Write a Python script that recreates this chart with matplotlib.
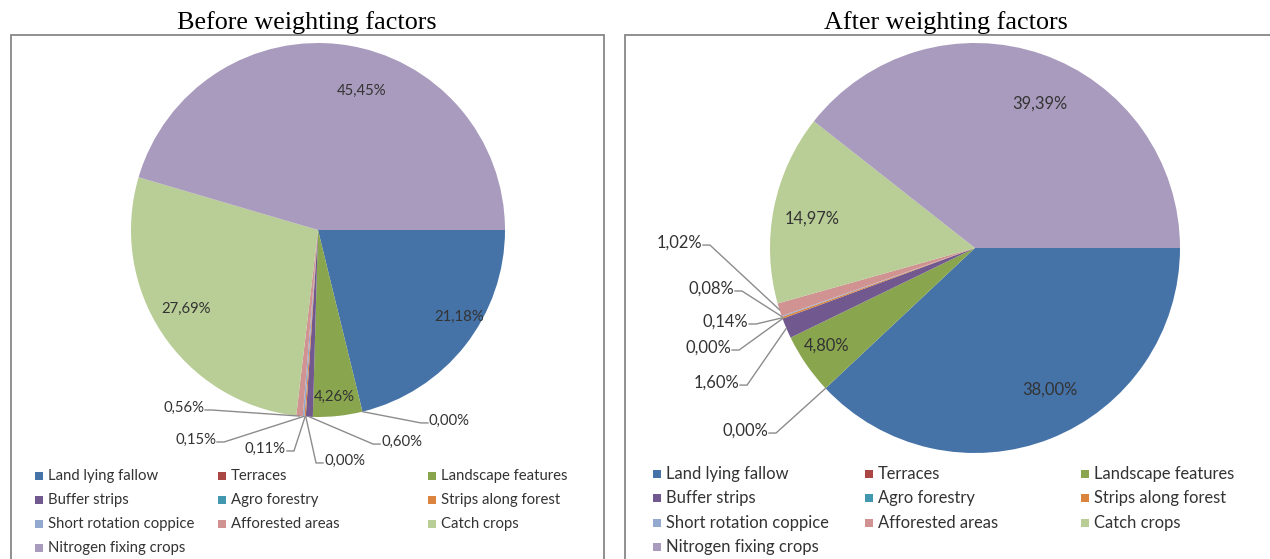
import numpy as np
import matplotlib
matplotlib.use("Agg")
import matplotlib.pyplot as plt
from matplotlib.patches import Rectangle

categories = ["Land lying fallow", "Terraces", "Landscape features",
              "Buffer strips", "Agro forestry", "Strips along forest",
              "Short rotation coppice", "Afforested areas", "Catch crops",
              "Nitrogen fixing crops"]
before_values = [21.18, 0.00, 4.26, 0.60, 0.00, 0.11, 0.15, 0.56, 27.69, 45.45]
after_values = [38.00, 0.00, 4.80, 1.60, 0.00, 0.14, 0.08, 1.02, 14.97, 39.39]
titles = ["Before weighting factors", "After weighting factors"]

colors = ["#4572A7", "#AA4643", "#89A54E", "#71588F", "#4198AF",
          "#DB843D", "#93A9CF", "#D19392", "#B9CD96", "#A99BBD"]

W, H = 1270, 559
fig = plt.figure(figsize=(W / 100, H / 100), dpi=100)
plt.rcParams['font.family'] = ['Lato', 'DejaVu Sans']

TXT = "#333333"
LINE = "#8c8c8c"


def fx(x):
    return x / W


def fy(y):
    return 1 - y / H


# layout for each panel: pie centre/radius (px), box, title, legend, label spots (radius units)
panels = [
    dict(values=before_values, cx=318, cy=230, R=187, box=(11, 35, 593),
         title_x=307, fs=10.7, leg_cols=[35, 218, 428], leg_rows=[476, 500, 524, 548],
         inside={0: (0.754, -0.465), 2: (0.086, -0.893),
                 8: (-0.706, -0.422), 9: (0.235, 0.743)},
         outside={1: (0.588, -1.021, 'left'), 3: (0.332, -1.134, 'left'),
                  4: (0.027, -1.235, 'left'), 5: (-0.166, -1.171, 'right'),
                  6: (-0.540, -1.123, 'right'), 7: (-0.604, -0.952, 'right')}),
    dict(values=after_values, cx=975, cy=248, R=205, box=(625, 35, 660),
         title_x=946, fs=11.9, leg_cols=[653, 865, 1081], leg_rows=[474, 498, 523, 547],
         inside={0: (0.366, -0.693), 2: (-0.722, -0.478),
                 8: (-0.795, 0.141), 9: (0.317, 0.702)},
         outside={1: (-1.005, -0.893, 'right'), 3: (-1.146, -0.659, 'right'),
                  4: (-1.185, -0.488, 'right'), 5: (-1.102, -0.361, 'right'),
                  6: (-1.171, -0.200, 'right'), 7: (-1.327, 0.024, 'right')}),
]

for p, title in zip(panels, titles):
    bx, by, bw = p['box']
    fig.add_artist(Rectangle((fx(bx), fy(H + 5)), bw / W, (H + 5 - by) / H,
                             transform=fig.transFigure, fill=False,
                             ec="#878787", lw=1.3))
    fig.text(fx(p['title_x']), fy(23), title, ha='center', va='center',
             fontsize=18.8, family='Liberation Serif', color='black')

    cx, cy, R = p['cx'], p['cy'], p['R']
    ax = fig.add_axes([fx(cx - R), fy(cy + R), 2 * R / W, 2 * R / H])
    vals = np.array(p['values'])
    ax.pie(vals, colors=colors, startangle=0, counterclock=False,
           wedgeprops=dict(linewidth=0))
    ax.set_xlim(-1, 1)
    ax.set_ylim(-1, 1)
    ax.axis('off')

    cum = np.cumsum(vals) - vals / 2
    mids = np.deg2rad(-360 * cum / vals.sum())
    stub = 7 / R
    for i, v in enumerate(vals):
        label = f"{v:.2f}%".replace('.', ',')
        a = mids[i]
        if i in p['outside']:
            tx, ty, side = p['outside'][i]
            sx, sy = np.cos(a), np.sin(a)
            ex = tx - stub if side == 'left' else tx + stub
            ey = ty - 2 / R
            ax.plot([sx, ex, tx], [sy, ey, ey], color=LINE, lw=1.0,
                    clip_on=False, solid_joinstyle='miter')
            ax.text(tx + (1 / R if side == 'left' else -1 / R), ty, label,
                    ha=side, va='center', fontsize=p['fs'], color=TXT,
                    clip_on=False)
        else:
            lx, ly = p['inside'][i]
            ax.text(lx, ly, label, ha='center', va='center',
                    fontsize=p['fs'], color=TXT)

    # legend, filled row by row like the original
    for i, name in enumerate(categories):
        r, c = divmod(i, 3)
        x = p['leg_cols'][c]
        y = p['leg_rows'][r]
        s = 8
        fig.add_artist(Rectangle((fx(x), fy(y + s / 2)), s / W, s / H,
                                 transform=fig.transFigure, color=colors[i], lw=0))
        fig.text(fx(x + 13), fy(y), name, ha='left', va='center',
                 fontsize=p['fs'], color=TXT)

fig.savefig("out.png", dpi=100)
